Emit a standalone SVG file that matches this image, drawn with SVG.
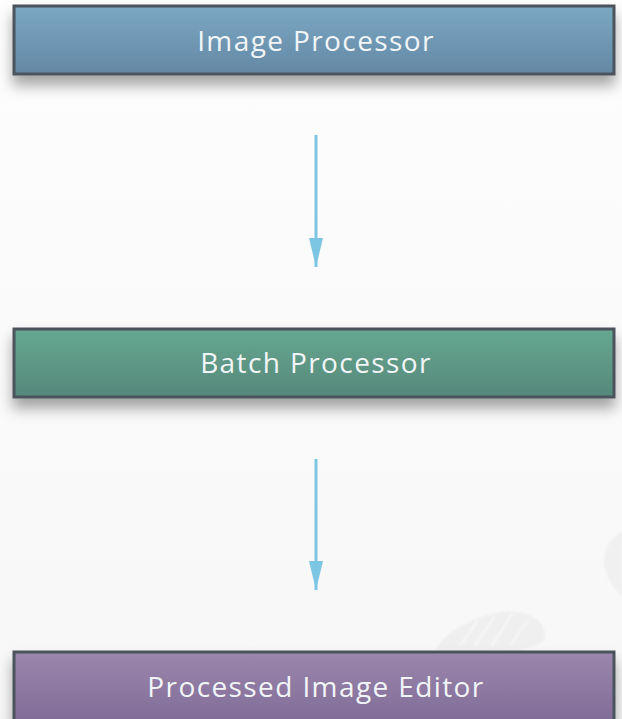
<svg xmlns="http://www.w3.org/2000/svg" width="622" height="719" viewBox="0 0 622 719">
  <defs>
    <linearGradient id="bg" x1="0" y1="0" x2="0" y2="1">
      <stop offset="0" stop-color="#fdfdfd"/>
      <stop offset="1" stop-color="#f7f7f7"/>
    </linearGradient>
    <linearGradient id="gBlue" x1="0" y1="0" x2="0" y2="1">
      <stop offset="0" stop-color="#7ba8c4"/>
      <stop offset="1" stop-color="#6488a4"/>
    </linearGradient>
    <linearGradient id="gGreen" x1="0" y1="0" x2="0" y2="1">
      <stop offset="0" stop-color="#66a891"/>
      <stop offset="1" stop-color="#55887a"/>
    </linearGradient>
    <linearGradient id="gPurple" x1="0" y1="0" x2="0" y2="1">
      <stop offset="0" stop-color="#9b87ad"/>
      <stop offset="1" stop-color="#806c96"/>
    </linearGradient>
    <filter id="shadow" x="-10%" y="-40%" width="120%" height="220%">
      <feDropShadow dx="0" dy="10" stdDeviation="7" flood-color="#000" flood-opacity="0.35"/>
    </filter>
    <filter id="soft" x="-10%" y="-10%" width="120%" height="120%">
      <feGaussianBlur stdDeviation="1.2"/>
    </filter>
    <marker id="arrow" viewBox="0 0 29 14" refX="29" refY="7" markerWidth="29" markerHeight="14" markerUnits="userSpaceOnUse" orient="auto">
      <path d="M0,0 L29,7 L0,14 Z" fill="#7cc6e4"/>
    </marker>
  </defs>
  <style>
    .box { stroke: #4b535c; stroke-width: 3; filter: url(#shadow); }
    .label { font-family: "Open Sans", "Noto Sans", "DejaVu Sans", sans-serif; font-size: 28px; letter-spacing: 1.4px; fill: #f2f5f7; text-anchor: middle; }
    .edge { stroke: #7cc6e4; stroke-width: 3; fill: none; }
  </style>

  <rect width="622" height="719" fill="url(#bg)"/>

  <!-- faint background blobs -->
  <g id="decor" filter="url(#soft)">
    <path d="M436,650 C442,634 470,618 500,612 C525,608 546,620 545,636 C544,646 525,650 505,651 Z" fill="#efefef"/>
    <path d="M460,646 L478,620 M475,646 L495,616 M492,646 L512,614 M510,646 L528,620" stroke="#f8f8f8" stroke-width="2" fill="none"/>
    <path d="M622,532 C612,536 604,548 604,562 C605,576 613,588 622,596 Z" fill="#f0f0f0"/>
  </g>

  <g id="connectors">
    <line class="edge" x1="316" y1="135" x2="316" y2="267" marker-end="url(#arrow)"/>
    <line class="edge" x1="316" y1="459" x2="316" y2="590" marker-end="url(#arrow)"/>
  </g>

  <g id="image-processor">
    <rect class="box" x="14" y="6" width="600" height="68" fill="url(#gBlue)"/>
    <text class="label" x="316" y="51">Image Processor</text>
  </g>

  <g id="batch-processor">
    <rect class="box" x="14" y="329" width="600" height="68" fill="url(#gGreen)"/>
    <text class="label" x="316" y="373">Batch Processor</text>
  </g>

  <g id="processed-image-editor">
    <rect class="box" x="14" y="652" width="600" height="70" fill="url(#gPurple)"/>
    <text class="label" x="316" y="697">Processed Image Editor</text>
  </g>
</svg>
